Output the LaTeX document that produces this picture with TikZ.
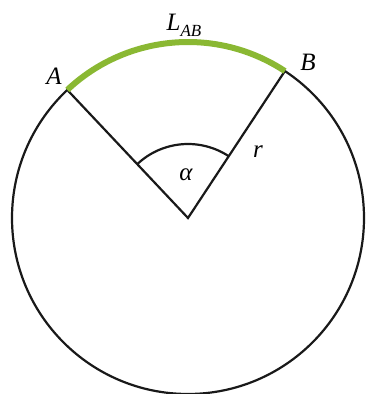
\documentclass[tikz,border=0pt]{standalone}
\usepackage{fontspec}
\setmainfont{Liberation Serif}
\usepackage{xcolor}
\definecolor{arcgreen}{HTML}{8AB833}
\begin{document}
\begin{tikzpicture}[x=1pt,y=-1pt,
  line/.style={line width=2.2pt,black!90},
  lab/.style={inner sep=0pt,font=\fontsize{25}{30}\selectfont\itshape}]
\useasboundingbox (0,0) rectangle (367,394);
\coordinate (O) at (188,218);
\coordinate (A) at ([shift={(188,218)}]-133.3:176);
\coordinate (B) at ([shift={(188,218)}]-56.6:176);
\coordinate (P) at ([shift={(188,218)}]-133.3:74);
\draw[line] (O) circle[radius=176];
\draw[line,line join=miter] (A) -- (O) -- (B);
\draw[line] (P) arc[start angle=-133.3,end angle=-56.6,radius=74];
\draw[line width=6pt,arcgreen] (A) arc[start angle=-133.3,end angle=-56.6,radius=176];
\node[lab] (la) at (54,76) {A};
\node[lab] (lb) at (308,62) {B};
\node[lab] (lab) at (184,25) {L\raisebox{-6pt}{\fontsize{17}{20}\selectfont AB}};
\node[lab] (lr) at (258,152) {r};
\node[lab] (lal) at (186,175) {α};
\end{tikzpicture}
\end{document}
